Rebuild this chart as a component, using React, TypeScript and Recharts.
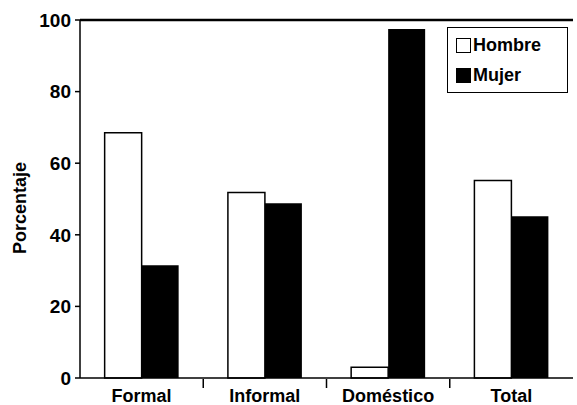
import React from "react";
import {
  BarChart,
  Bar,
  XAxis,
  YAxis,
  Legend,
  ReferenceLine,
} from "recharts";

const categories = ["Formal", "Informal", "Doméstico", "Total"];
const hombre = [68.5, 51.8, 3, 55.2];
const mujer = [31.5, 48.8, 97.5, 45.2];
const yTicks = [0, 20, 40, 60, 80, 100];

const data = categories.map((name, i) => ({
  name,
  hombre: hombre[i],
  mujer: mujer[i],
}));

const font = "Arial, 'Liberation Sans', sans-serif";

function LegendBox() {
  const row = { display: "flex", alignItems: "center", height: 30 };
  const sq = { width: 13, height: 13, border: "1.5px solid #000", marginRight: 2 };
  return (
    <div
      style={{
        border: "1.5px solid #000",
        background: "#fff",
        padding: "2px 8px",
        fontFamily: font,
        fontSize: 18,
        fontWeight: "bold",
        color: "#000",
        boxSizing: "border-box",
      }}
    >
      <div style={row}>
        <span style={{ ...sq, background: "#fff" }} />
        Hombre
      </div>
      <div style={row}>
        <span style={{ ...sq, background: "#000" }} />
        Mujer
      </div>
    </div>
  );
}

// category label plus a small tick mark at the right edge of each band
function CategoryTick(props: any) {
  const { x, y, payload, index, width, visibleTicksCount } = props;
  const half = width / (2 * visibleTicksCount);
  const axisY = y - 9;
  return (
    <g>
      {index < visibleTicksCount - 1 && (
        <line
          x1={x + half}
          x2={x + half}
          y1={axisY}
          y2={axisY + 9}
          stroke="#000"
          strokeWidth={1.5}
        />
      )}
      <text
        x={x}
        y={y}
        dy={14}
        textAnchor="middle"
        fill="#000"
        fontSize={18}
        fontWeight="bold"
        fontFamily={font}
      >
        {payload.value}
      </text>
    </g>
  );
}

export default function App() {
  return (
    <div style={{ width: 577, height: 405, background: "#fff" }}>
      <style>{`body{margin:0}`}</style>
      <BarChart
        width={577}
        height={405}
        data={data}
        margin={{ top: 20, right: 4, bottom: 0, left: 0 }}
        barCategoryGap="20%"
        barGap={0}
      >
        <XAxis
          dataKey="name"
          height={27}
          tickLine={false}
          axisLine={{ stroke: "#000", strokeWidth: 1.5 }}
          tick={<CategoryTick />}
          tickMargin={4}
          interval={0}
        />
        <YAxis
          width={80}
          domain={[0, 100]}
          ticks={yTicks}
          tickSize={5}
          tickMargin={4}
          axisLine={{ stroke: "#000", strokeWidth: 1.5 }}
          tickLine={{ stroke: "#000", strokeWidth: 1.5 }}
          tick={{ fill: "#000", fontSize: 19, fontWeight: "bold", fontFamily: font }}
          label={{
            value: "Porcentaje",
            angle: -90,
            position: "insideLeft",
            offset: 20,
            dy: 55,
            style: { fill: "#000", fontSize: 18, fontWeight: "bold", fontFamily: font },
          }}
        />
        <YAxis
          yAxisId="right"
          orientation="right"
          width={0}
          domain={[0, 100]}
          tick={false}
          tickLine={false}
          axisLine={{ stroke: "#000", strokeWidth: 1.5 }}
        />
        <ReferenceLine y={100} stroke="#000" strokeWidth={2.5} />
        <Legend
          layout="vertical"
          align="center"
          verticalAlign="middle"
          content={() => <LegendBox />}
          wrapperStyle={{ top: 27, left: 447, width: 121, height: 65 }}
        />
        <Bar
          dataKey="hombre"
          name="Hombre"
          fill="#fff"
          stroke="#000"
          strokeWidth={1.5}
          isAnimationActive={false}
        />
        <Bar dataKey="mujer" name="Mujer" fill="#000" isAnimationActive={false} />
      </BarChart>
    </div>
  );
}
